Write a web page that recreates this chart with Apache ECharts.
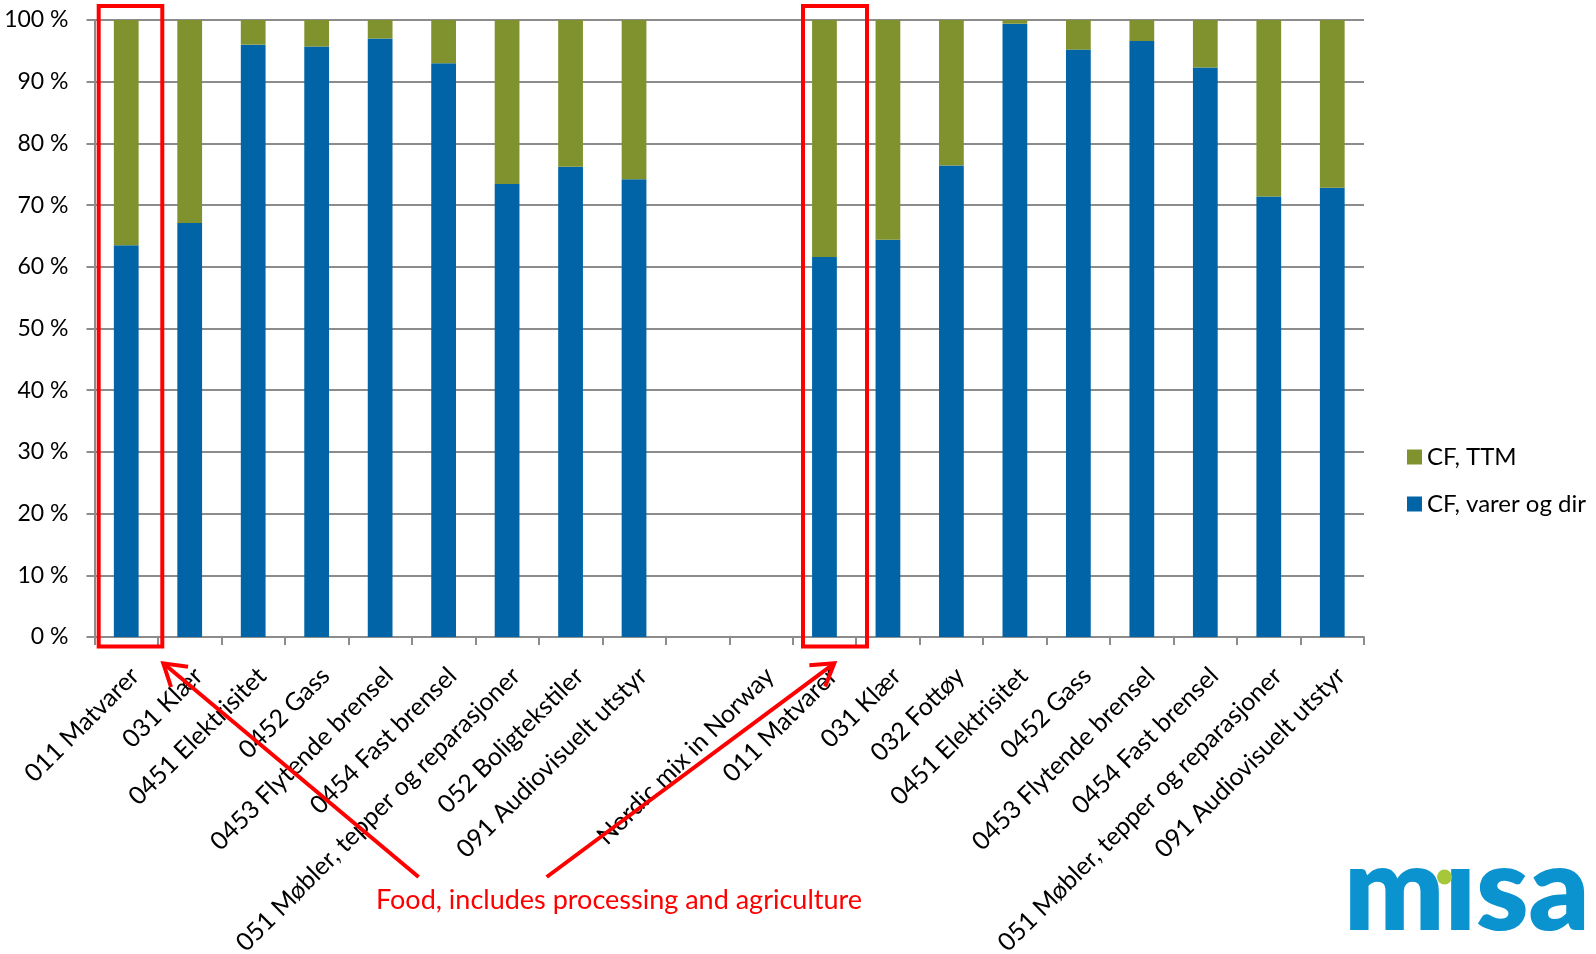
<!DOCTYPE html>
<html>
<head>
<meta charset="utf-8">
<script src="https://cdn.jsdelivr.net/npm/echarts@6/dist/echarts.min.js"></script>
<style>
  html, body { margin: 0; padding: 0; background: #ffffff; }
  #chart { width: 1596px; height: 954px; }
</style>
</head>
<body>
<div id="chart"></div>
<script>
// Consumption categories (two groups separated by an empty slot)
const categories = [
  '011 Matvarer', '031 Klær', '0451 Elektrisitet', '0452 Gass',
  '0453 Flytende brensel', '0454 Fast brensel',
  '051 Møbler, tepper og reparasjoner', '052 Boligtekstiler',
  '091 Audiovisuelt utstyr', '', 'Nordic mix in Norway',
  '011 Matvarer', '031 Klær', '032 Fottøy', '0451 Elektrisitet',
  '0452 Gass', '0453 Flytende brensel', '0454 Fast brensel',
  '051 Møbler, tepper og reparasjoner', '091 Audiovisuelt utstyr'
];

// Share of carbon footprint, percent
const cfGoodsDirect = [63.5, 67.1, 96.0, 95.7, 97.0, 93.0, 73.4, 76.2, 74.2, null, null,
                       61.6, 64.4, 76.4, 99.4, 95.2, 96.6, 92.3, 71.4, 72.8];
const cfTTM         = [36.5, 32.9, 4.0, 4.3, 3.0, 7.0, 26.6, 23.8, 25.8, null, null,
                       38.4, 35.6, 23.6, 0.6, 4.8, 3.4, 7.7, 28.6, 27.2];

const seriesNames = ['CF, TTM', 'CF, varer og dir'];
const yAxisMin = 0, yAxisMax = 100, yAxisStep = 10;

const note = 'Food, includes processing and agriculture';

const FONT = 'Lato, "Open Sans", sans-serif';
const BLUE = '#0064a6';
const GREEN = '#7f922d';
const GRID_GRAY = '#8c8c8c';
const RED = '#ff0000';

const chart = echarts.init(document.getElementById('chart'), null, { renderer: 'canvas' });

// Open arrow: shaft plus two head strokes at the tip
function arrow(tail, tip) {
  const dx = tail[0] - tip[0], dy = tail[1] - tip[1];
  const len = Math.hypot(dx, dy);
  const ux = dx / len, uy = dy / len;
  const head = 25, ang = 32 * Math.PI / 180;
  const rot = (a) => [tip[0] + head * (ux * Math.cos(a) - uy * Math.sin(a)),
                      tip[1] + head * (ux * Math.sin(a) + uy * Math.cos(a))];
  const style = { stroke: RED, lineWidth: 4, fill: null, lineCap: 'butt', lineJoin: 'miter' };
  return [
    { type: 'line', z: 100, shape: { x1: tail[0], y1: tail[1], x2: tip[0], y2: tip[1] }, style },
    { type: 'polyline', z: 100, shape: { points: [rot(ang), tip, rot(-ang)] }, style }
  ];
}

const option = {
  animation: false,
  backgroundColor: '#ffffff',
  textStyle: { fontFamily: FONT },
  grid: { left: 94.5, right: 232, top: 20, bottom: 317, outerBoundsMode: 'none', containLabel: false },
  legend: {
    data: seriesNames,
    orient: 'vertical',
    left: 1402,
    top: 440,
    padding: 5,
    itemWidth: 15,
    itemHeight: 15,
    itemGap: 23,
    icon: 'rect',
    textStyle: { fontFamily: FONT, fontSize: 24, color: '#000000' }
  },
  xAxis: {
    type: 'category',
    data: categories,
    axisLine: { lineStyle: { color: GRID_GRAY, width: 2 } },
    axisTick: { show: true, length: 8, lineStyle: { color: GRID_GRAY, width: 2 } },
    axisLabel: {
      interval: 0,
      rotate: 45,
      margin: 26,
      align: 'right',
      verticalAlign: 'top',
      fontFamily: FONT,
      fontSize: 25,
      color: '#000000'
    }
  },
  yAxis: {
    type: 'value',
    min: yAxisMin,
    max: yAxisMax,
    interval: yAxisStep,
    axisLine: { show: true, lineStyle: { color: GRID_GRAY, width: 2 } },
    axisTick: { show: true, length: 8, lineStyle: { color: GRID_GRAY, width: 2 } },
    splitLine: { show: true, lineStyle: { color: GRID_GRAY, width: 2 } },
    axisLabel: {
      formatter: '{value} %',
      margin: 26,
      fontFamily: FONT,
      fontSize: 23,
      color: '#000000'
    }
  },
  series: [
    {
      name: seriesNames[1],
      type: 'bar',
      stack: 'cf',
      barWidth: '39%',
      itemStyle: { color: BLUE },
      data: cfGoodsDirect
    },
    {
      name: seriesNames[0],
      type: 'bar',
      stack: 'cf',
      barWidth: '39%',
      itemStyle: { color: GREEN },
      data: cfTTM
    }
  ],
  graphic: [
    // Boxes around the food bars
    { type: 'rect', z: 100, shape: { x: 98.7, y: 6, width: 63.6, height: 640.5 },
      style: { stroke: RED, lineWidth: 4, fill: null } },
    { type: 'rect', z: 100, shape: { x: 803, y: 6, width: 64, height: 640.5 },
      style: { stroke: RED, lineWidth: 4, fill: null } },
    ...arrow([418.6, 877], [163.3, 663.3]),
    ...arrow([546.7, 877], [834.3, 663.3]),
    { type: 'text', z: 100, x: 619, y: 900,
      style: { text: note, fill: RED, font: '27px ' + FONT, textAlign: 'center', textVerticalAlign: 'middle' } },
    // misa logo
    { type: 'text', z: 100, x: 1344, y: 951,
      style: { text: 'mısa', fill: '#0a93cf', font: '800 118px ' + FONT, textAlign: 'left', textVerticalAlign: 'bottom' } },
    { type: 'circle', z: 101, shape: { cx: 1444.5, cy: 877, r: 7.5 }, style: { fill: '#a6c73a' } }
  ]
};

chart.setOption(option);
</script>
</body>
</html>
